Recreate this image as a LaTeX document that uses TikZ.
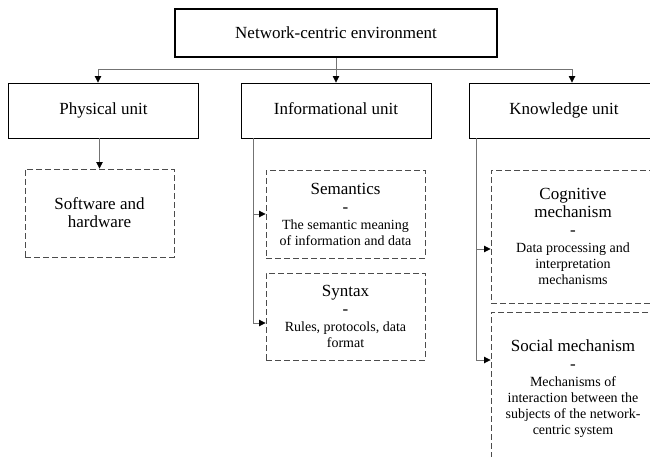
\documentclass[tikz,border=0pt]{standalone}
\usepackage{fontspec}
\setmainfont{Liberation Serif}
\usetikzlibrary{positioning,arrows.meta}
\newcommand{\ttlfont}{\fontsize{17}{18}\selectfont}
\newcommand{\bdyfont}{\fontsize{14}{16}\selectfont}
\begin{document}
\begin{tikzpicture}[x=1pt,y=-1pt,
    % main box
    headbox/.style={draw=black, line width=2pt, minimum width=322pt,
      minimum height=48pt, inner sep=0pt, font=\ttlfont},
    % units
    unitbox/.style={draw=black, line width=0.9pt, minimum width=190pt,
      minimum height=55pt, inner sep=0pt, text height=12pt, text depth=4pt,
      font=\ttlfont},
    % dashed sub boxes
    subbox/.style={draw=black!70, dash pattern=on 6pt off 3pt,
      line width=0.9pt, align=center, inner sep=0pt, font=\bdyfont},
    link/.style={draw=black!55, line width=0.8pt},
    arr/.style={link, -{Triangle[black, length=6.5pt, width=6.5pt]}}
  ]
  \clip (0,0) rectangle (650,457);
  \fill[white] (0,0) rectangle (650,457);

  % --- top ---
  \node[headbox] (head) at (336,33) {Network-centric environment};

  % --- units ---
  \node[unitbox] (phys) at (103.5,110.5) {Physical unit};
  \node[unitbox] (info) at (336,110.5) {Informational unit};
  \node[unitbox] (know) at (564,110.5) {Knowledge unit};

  % --- sub boxes ---
  \node[subbox, font=\ttlfont, minimum width=149pt, minimum height=88pt] (soft) at (99.5,213)
    {Software and\\hardware};
  \node[subbox, minimum width=159pt, minimum height=88pt] (sem) at (345.5,214)
    {{\ttlfont Semantics}\\[2pt]{\ttlfont -}\\[1pt]The semantic meaning\\of information and data};
  \node[subbox, minimum width=159pt, minimum height=87pt] (syn) at (345.5,316.5)
    {{\ttlfont Syntax}\\[2pt]{\ttlfont -}\\[1pt]Rules, protocols, data\\format};
  \node[subbox, minimum width=164pt, minimum height=133pt] (cog) at (573,236.5)
    {{\ttlfont Cognitive}\\[2pt]{\ttlfont mechanism}\\[2pt]{\ttlfont -}\\[1pt]Data processing and\\interpretation\\mechanisms};
  \node[subbox, minimum width=164pt, minimum height=153pt] (soc) at (573,388.5)
    {{\ttlfont Social mechanism}\\[2pt]{\ttlfont -}\\[1pt]Mechanisms of\\interaction between the\\subjects of the network-\\centric system};

  % --- connectors ---
  \draw[arr] (head.south) -- (info.north);
  \draw[arr] (head.south) ++(0,11) -| ([xshift=-5.5pt]phys.north);
  \draw[arr] (head.south) ++(0,11) -| ([xshift=8pt]know.north);
  \draw[arr] (soft.north |- phys.south) -- (soft.north);

  \coordinate (ib) at ([xshift=13pt]info.south west);
  \draw[arr] (ib) |- (sem.west);
  \draw[arr] (ib) |- ([yshift=-6.5pt]syn.west);

  \coordinate (kb) at ([xshift=8pt]know.south west);
  \draw[arr] (kb) |- ([yshift=-12.5pt]cog.west);
  \draw[arr] (kb) |- ([yshift=28.5pt]soc.west);
\end{tikzpicture}
\end{document}
